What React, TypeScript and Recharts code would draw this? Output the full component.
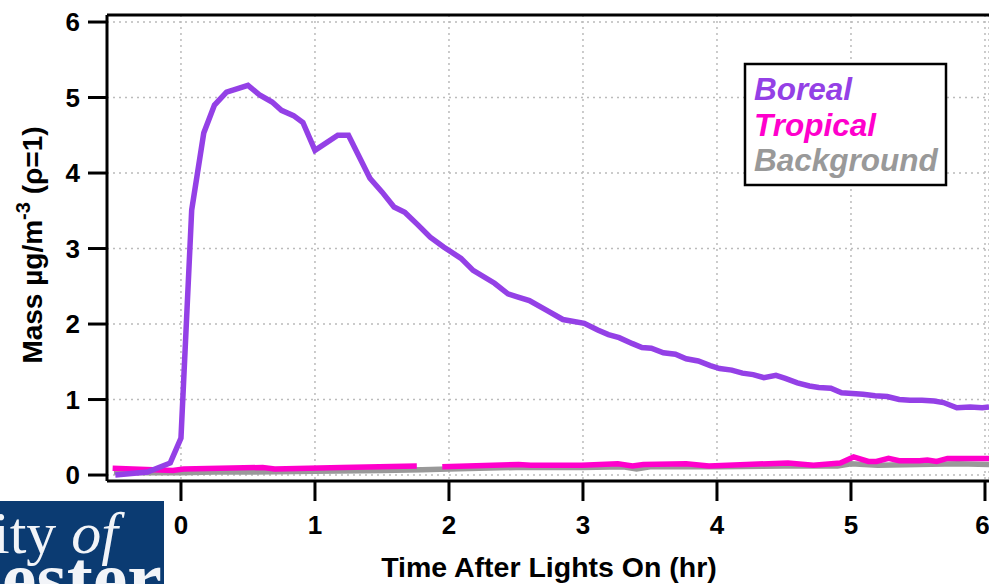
import React from 'react';
import { LineChart, Line, XAxis, YAxis, CartesianGrid, ReferenceLine } from 'recharts';

document.body.style.margin = '0';

const xTicks = [0, 1, 2, 3, 4, 5, 6];
const yTicks = [0, 1, 2, 3, 4, 5, 6];

const borealT = [-0.49, -0.25, -0.08, 0.0, 0.08, 0.17, 0.25, 0.34, 0.5, 0.59, 0.68, 0.75, 0.84, 0.91, 1.0, 1.17, 1.25, 1.41, 1.5, 1.59, 1.67, 1.77, 1.86, 1.96, 2.09, 2.18, 2.34, 2.44, 2.51, 2.6, 2.73, 2.85, 3.01, 3.11, 3.19, 3.27, 3.37, 3.44, 3.51, 3.6, 3.69, 3.77, 3.86, 3.95, 4.02, 4.11, 4.19, 4.27, 4.35, 4.44, 4.51, 4.6, 4.69, 4.76, 4.85, 4.93, 5.01, 5.09, 5.18, 5.27, 5.36, 5.44, 5.53, 5.62, 5.69, 5.79, 5.89, 5.98, 6.03];
const borealV = [0.0, 0.04, 0.16, 0.49, 3.51, 4.53, 4.9, 5.07, 5.16, 5.03, 4.94, 4.83, 4.76, 4.67, 4.3, 4.5, 4.5, 3.93, 3.75, 3.55, 3.48, 3.31, 3.15, 3.02, 2.87, 2.71, 2.54, 2.4, 2.36, 2.31, 2.18, 2.06, 2.01, 1.92, 1.86, 1.82, 1.74, 1.69, 1.68, 1.62, 1.6, 1.54, 1.51, 1.45, 1.41, 1.39, 1.35, 1.33, 1.29, 1.32, 1.28, 1.22, 1.18, 1.16, 1.15, 1.09, 1.08, 1.07, 1.05, 1.04, 1.0, 0.99, 0.99, 0.98, 0.96, 0.89, 0.9, 0.89, 0.9];

const tropicalT = [-0.51, -0.06, 0.02, 0.61, 0.7, 1.2, 1.76, 1.86, 1.95, 2.52, 2.61, 2.99, 3.26, 3.37, 3.45, 3.77, 3.94, 4.22, 4.53, 4.72, 4.92, 5.02, 5.13, 5.19, 5.28, 5.36, 5.51, 5.57, 5.64, 5.72, 6.03];
const tropicalV = [0.09, 0.06, 0.08, 0.1, 0.08, 0.1, 0.12, null, 0.11, 0.14, 0.13, 0.13, 0.15, 0.12, 0.14, 0.15, 0.12, 0.14, 0.16, 0.13, 0.16, 0.24, 0.18, 0.18, 0.22, 0.19, 0.19, 0.2, 0.18, 0.22, 0.22];

const backgroundT = [-0.5, -0.25, 0, 0.25, 0.5, 1.0, 1.5, 1.8, 2.0, 2.5, 3.0, 3.3, 3.4, 3.5, 4.0, 4.5, 4.9, 5.0, 5.2, 5.5, 5.8, 6.03];
const backgroundV = [0.04, 0.03, 0.03, 0.04, 0.04, 0.05, 0.06, 0.07, 0.08, 0.1, 0.1, 0.11, 0.08, 0.11, 0.11, 0.12, 0.12, 0.15, 0.13, 0.14, 0.15, 0.14];

const zip = (t: number[], v: (number | null)[]) => t.map((x, i) => ({ t: x, v: v[i] }));

const boreal = zip(borealT, borealV);
const tropical = zip(tropicalT, tropicalV);
const background = zip(backgroundT, backgroundV);

const PURPLE = '#9440e6';
const MAGENTA = '#ff00cc';
const GRAY = '#999999';
const FONT = 'Arial, "Liberation Sans", sans-serif';
const SERIF = '"Liberation Serif", "Times New Roman", serif';

const tickStyle = { fill: '#000', fontSize: 26, fontWeight: 'bold' as const, fontFamily: FONT };

export default function App() {
  return (
    <div style={{ position: 'relative', width: 989, height: 584, overflow: 'hidden', background: '#fff' }}>
      <LineChart width={989} height={584} margin={{ top: 15, right: 0, left: 0, bottom: 0 }}>
        <CartesianGrid stroke="#bbbbbb" strokeDasharray="2 4" strokeWidth={1.5} />
        <XAxis
          type="number"
          dataKey="t"
          domain={[-0.552, 6.03]}
          ticks={xTicks}
          allowDataOverflow
          height={103}
          tick={tickStyle}
          tickSize={20}
          tickMargin={15}
          axisLine={{ stroke: '#000', strokeWidth: 3 }}
          tickLine={{ stroke: '#000', strokeWidth: 3 }}
        />
        <YAxis
          type="number"
          domain={[-0.079, 6.093]}
          ticks={yTicks}
          allowDataOverflow
          width={107}
          tick={tickStyle}
          tickSize={19}
          tickMargin={8}
          axisLine={{ stroke: '#000', strokeWidth: 3 }}
          tickLine={{ stroke: '#000', strokeWidth: 3 }}
        />
        <ReferenceLine y={6.093} stroke="#000" strokeWidth={3} />
        <Line data={background} dataKey="v" stroke={GRAY} strokeWidth={5.5} dot={false} isAnimationActive={false} />
        <Line data={tropical} dataKey="v" stroke={MAGENTA} strokeWidth={5.5} dot={false} connectNulls={false} isAnimationActive={false} />
        <Line data={boreal} dataKey="v" stroke={PURPLE} strokeWidth={5.5} dot={false} isAnimationActive={false} />
      </LineChart>
      <svg width={989} height={584} style={{ position: 'absolute', left: 0, top: 0, pointerEvents: 'none' }}>
        <rect x={745} y={64} width={201} height={121} fill="#fff" stroke="#000" strokeWidth={2.5} />
        <g fontFamily={FONT} fontWeight="bold" fontStyle="italic" fontSize={31.5}>
          <text x={754} y={100} fill={PURPLE}>Boreal</text>
          <text x={754} y={136} fill={MAGENTA}>Tropical</text>
          <text x={754} y={171} fill={GRAY}>Background</text>
        </g>
        <text x={549} y={577} textAnchor="middle" fontFamily={FONT} fontWeight="bold" fontSize={28.5} fill="#000">
          Time After Lights On (hr)
        </text>
        <text
          transform="translate(42,245) rotate(-90)"
          textAnchor="middle"
          fontFamily={FONT}
          fontWeight="bold"
          fontSize={28}
          fill="#000"
        >
          Mass µg/m<tspan dy={-12} fontSize={20}>-3</tspan>
          <tspan dy={12}> (ρ=1)</tspan>
        </text>
        <rect x={0} y={501} width={164} height={83} fill="#0b3b72" />
        <text x={118} y={553} textAnchor="end" fontFamily={SERIF} fontSize={60} fill="#f2f4f8">
          University <tspan fontStyle="italic">of</tspan>
        </text>
        <text x={162} y={605} textAnchor="end" fontFamily={SERIF} fontWeight="bold" fontSize={78} fill="#f2f4f8">
          Manchester
        </text>
      </svg>
    </div>
  );
}
